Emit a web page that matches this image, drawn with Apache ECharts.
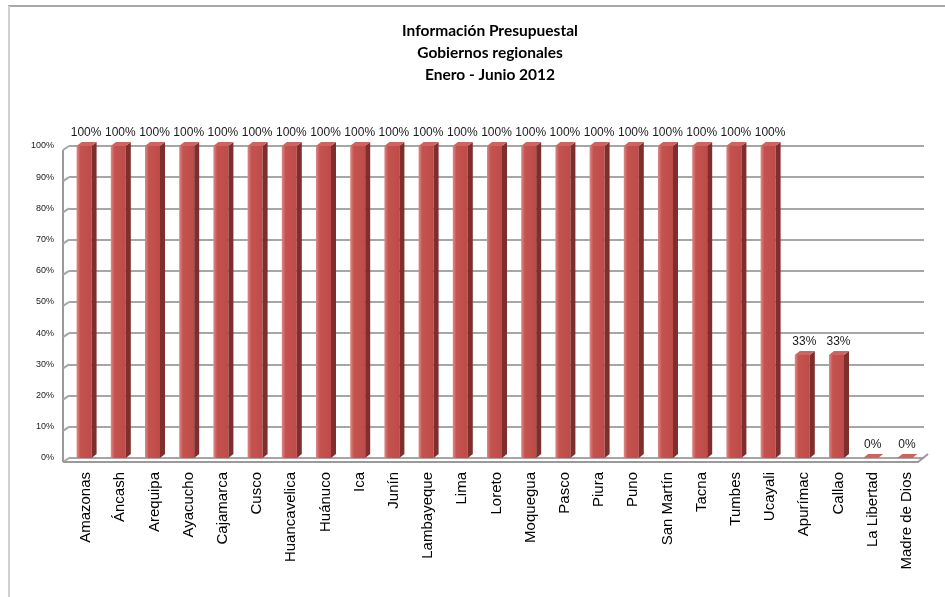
<!DOCTYPE html>
<html>
<head>
<meta charset="utf-8">
<script src="https://cdn.jsdelivr.net/npm/echarts@6/dist/echarts.min.js"></script>
<style>
html,body{margin:0;padding:0;background:#fff;}
#c{width:945px;height:597px;}
</style>
</head>
<body>
<div id="c"></div>
<script>
const categories = ['Amazonas','Áncash','Arequipa','Ayacucho','Cajamarca','Cusco','Huancavelica','Huánuco','Ica','Junín','Lambayeque','Lima','Loreto','Moquegua','Pasco','Piura','Puno','San Martín','Tacna','Tumbes','Ucayali','Apurímac','Callao','La Libertad','Madre de Dios'];
const values = [100,100,100,100,100,100,100,100,100,100,100,100,100,100,100,100,100,100,100,100,100,33,33,0,0];
const yTicks = [0,10,20,30,40,50,60,70,80,90,100];

const chart = echarts.init(document.getElementById('c'), null, {renderer:'canvas'});

function renderItem(params, api){
  const xi = api.value(0), v = api.value(1);
  const top = api.coord([xi, v]);
  const base = api.coord([xi, 0]);
  const w = 15, d = 5, dy = 4;
  const fx = top[0] - w/2 - 2;
  const h = base[1] - top[1];
  return {
    type:'group',
    children:[
      {type:'rect', shape:{x:fx, y:top[1], width:w, height:h},
       style:{fill:new echarts.graphic.LinearGradient(0,0,1,0,[{offset:0,color:'#DE8A87'},{offset:0.25,color:'#C4534F'},{offset:1,color:'#BE4B48'}])}},
      {type:'polygon', shape:{points:[[fx+w,top[1]],[fx+w+d,top[1]-dy],[fx+w+d,base[1]-dy],[fx+w,base[1]]]},
       style:{fill:'#7E2F2D'}},
      {type:'polygon', shape:{points:[[fx,top[1]],[fx+d,top[1]-dy],[fx+w+d,top[1]-dy],[fx+w,top[1]]]},
       style:{fill:'#D0625F'}},
      {type:'text', style:{text:v+'%', x:top[0], y:top[1]-dy-3, align:'center', verticalAlign:'bottom',
        fontSize:12, fontFamily:'Liberation Sans, Arial, sans-serif', fill:'#1a1a1a'}}
    ]
  };
}

chart.setOption({
  animation:false,
  backgroundColor:'#fff',
  title:{
    text:'Información Presupuestal\nGobiernos regionales\nEnero - Junio 2012',
    left:485, textAlign:'center', top:15,
    textStyle:{fontSize:15.5, fontWeight:'bold', lineHeight:22, color:'#000', fontFamily:'Lato, Liberation Sans Narrow, sans-serif'}
  },
  grid:{left:69, right:21, top:146, bottom:139},
  xAxis:{
    type:'category', data:categories,
    axisLine:{show:false},
    axisTick:{show:false},
    axisLabel:{rotate:90, fontSize:15, color:'#000', margin:14, fontFamily:'Liberation Sans, Arial, sans-serif', interval:0}
  },
  yAxis:{
    type:'value', min:0, max:100, interval:10,
    axisLine:{show:false},
    axisTick:{show:false},
    splitLine:{lineStyle:{color:'#a6a6a6', width:2}},
    axisLabel:{formatter:v=>v+'%', fontSize:9, color:'#222', margin:15, fontFamily:'Liberation Sans, Arial, sans-serif'}
  },
  series:[{
    type:'custom',
    renderItem:renderItem,
    data:values.map((v,i)=>[i,v]),
    encode:{x:0,y:1}
  }]
});

// 3D wall/floor decoration derived from the axis scale
const g = [];
g.push({type:'line', shape:{x1:8,y1:6,x2:945,y2:6}, style:{stroke:'#8c8c8c', lineWidth:1.5}, silent:true});
g.push({type:'line', shape:{x1:9,y1:6,x2:9,y2:597}, style:{stroke:'#d0d0d0', lineWidth:2}, silent:true});
const left = 69, right = 945-21, dx = 6, ddy = 4;
const y0 = chart.convertToPixel({yAxisIndex:0}, 0);
const y100 = chart.convertToPixel({yAxisIndex:0}, 100);
g.push({type:'line', shape:{x1:left-dx, y1:y0+ddy, x2:left-dx, y2:y100+ddy}, style:{stroke:'#9a9a9a', lineWidth:2}, silent:true});
yTicks.forEach(t=>{
  const y = chart.convertToPixel({yAxisIndex:0}, t);
  g.push({type:'line', shape:{x1:left-dx, y1:y+ddy, x2:left, y2:y}, style:{stroke:'#a6a6a6', lineWidth:2}, silent:true});
});
g.push({type:'polyline', shape:{points:[[left-dx,y0+ddy],[right-dx,y0+ddy],[right+4,y0-4]]}, style:{stroke:'#9a9a9a', lineWidth:2, fill:null}, silent:true});
chart.setOption({graphic:g});
</script>
</body>
</html>
